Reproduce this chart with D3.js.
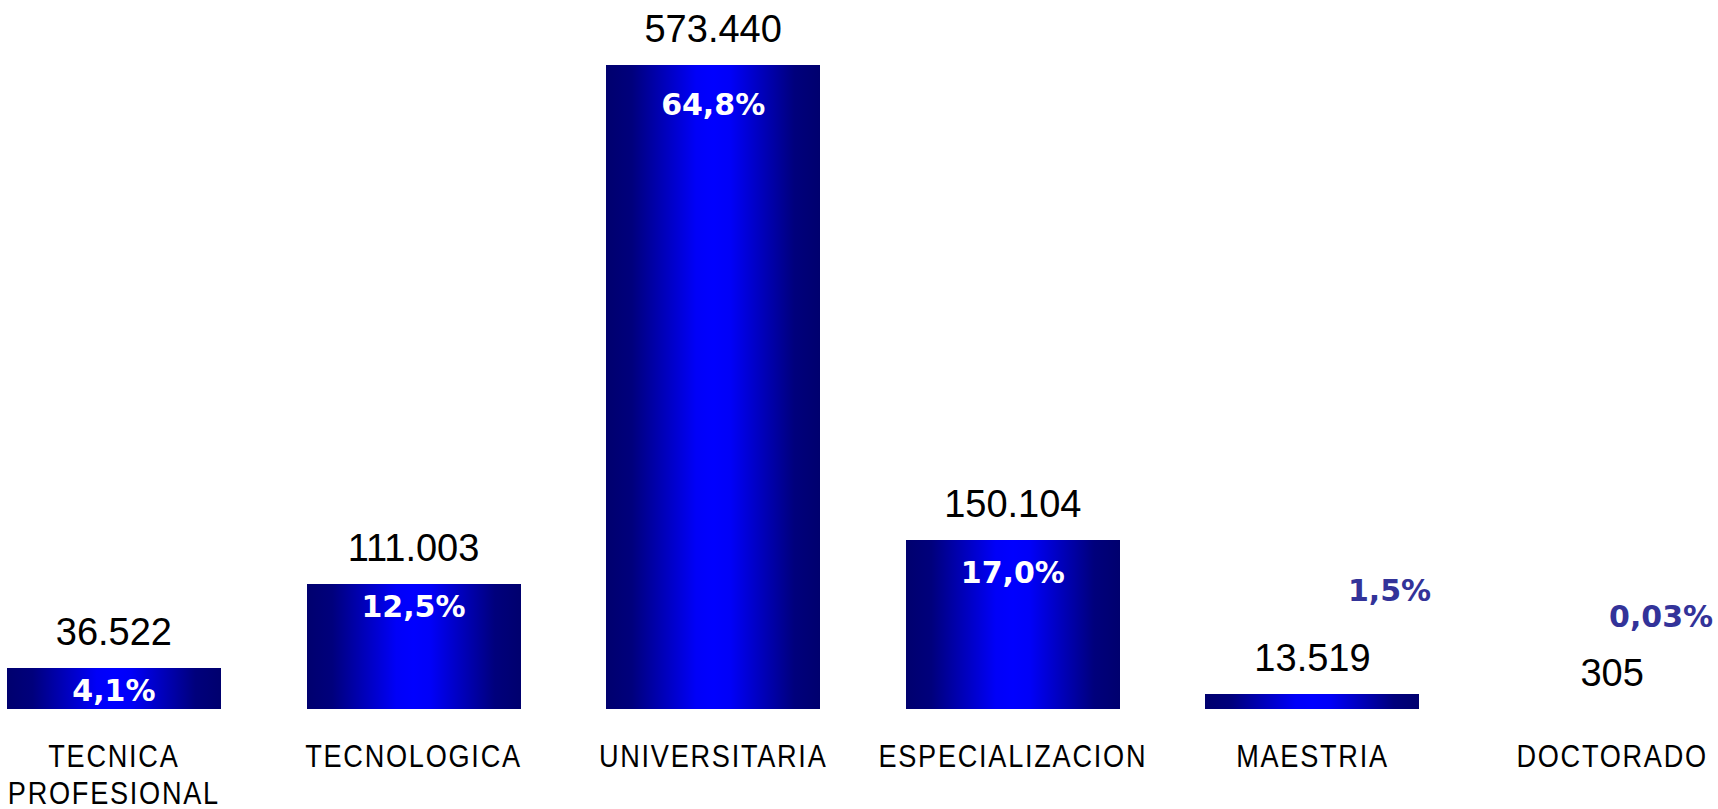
<!DOCTYPE html>
<html>
<head>
<meta charset="utf-8">
<script src="https://cdn.jsdelivr.net/npm/d3@7"></script>
<style>
  body { margin: 0; background: #fff; }
  .val { font-family: "Liberation Sans", Arial, sans-serif; font-size: 38px; fill: #000; }
  .pct { font-family: "DejaVu Sans", Verdana, sans-serif; font-weight: bold; font-size: 30px; }
  .cat { font-family: "Liberation Sans", Arial, sans-serif; font-size: 31px; letter-spacing: 2px; fill: #000; }
</style>
</head>
<body>
<div id="canvas"></div>
<script>
// datos: matricula por nivel de formacion
var categories = [["TECNICA", "PROFESIONAL"], ["TECNOLOGICA"], ["UNIVERSITARIA"], ["ESPECIALIZACION"], ["MAESTRIA"], ["DOCTORADO"]];
var values = [36522, 111003, 573440, 150104, 13519, 305];
var valueLabels = ["36.522", "111.003", "573.440", "150.104", "13.519", "305"];
var pctLabels = ["4,1%", "12,5%", "64,8%", "17,0%", "1,5%", "0,03%"];

// where each percent label sits, relative to bar centre / bar top
var pctInside = [true, true, true, true, false, false];
var pctOffset = [[0, 33], [0, 33], [0, 50], [0, 43], [77, -93], [49, -82]];

var width = 1718, height = 809;

var svg = d3.select("#canvas")
  .append("svg")
  .attr("width", width)
  .attr("height", height);

var grad = svg.append("defs").append("linearGradient")
  .attr("id", "barGrad")
  .attr("x1", "0%").attr("x2", "100%")
  .attr("y1", "0%").attr("y2", "0%");
[[0, "#00006e"], [0.12, "#00007c"], [0.42, "#0000f8"], [0.5, "#0000ff"], [0.58, "#0000f8"], [0.88, "#00007c"], [1, "#00006e"]]
  .forEach(function (s) {
    grad.append("stop").attr("offset", s[0]).attr("stop-color", s[1]);
  });

var x = d3.scaleBand()
  .domain(d3.range(values.length))
  .range([-36, 1762])
  .paddingInner(0.2857)
  .paddingOuter(0.143);

var y = d3.scaleLinear()
  .domain([0, 573440])
  .range([709, 64.6]);

// bars
svg.selectAll("rect.bar")
  .data(values)
  .enter().append("rect")
  .attr("class", "bar")
  .attr("shape-rendering", "crispEdges")
  .attr("x", function (d, i) { return x(i); })
  .attr("width", x.bandwidth())
  .attr("y", function (d) { return y(d); })
  .attr("height", function (d) { return y(0) - y(d); })
  .attr("fill", "url(#barGrad)");

// value labels above bars
svg.selectAll("text.val")
  .data(values)
  .enter().append("text")
  .attr("class", "val")
  .attr("text-anchor", "middle")
  .attr("x", function (d, i) { return x(i) + x.bandwidth() / 2; })
  .attr("y", function (d) { return y(d) - 23; })
  .text(function (d, i) { return valueLabels[i]; });

// percent labels
svg.selectAll("text.pct")
  .data(values)
  .enter().append("text")
  .attr("class", "pct")
  .attr("text-anchor", "middle")
  .attr("fill", function (d, i) { return pctInside[i] ? "#fff" : "#333399"; })
  .attr("x", function (d, i) { return x(i) + x.bandwidth() / 2 + pctOffset[i][0]; })
  .attr("y", function (d, i) { return y(d) + pctOffset[i][1]; })
  .text(function (d, i) { return pctLabels[i]; });

// category labels (narrow look: squeeze horizontally)
var cat = svg.selectAll("text.cat")
  .data(categories)
  .enter().append("text")
  .attr("class", "cat")
  .attr("text-anchor", "middle")
  .attr("transform", function (d, i) {
    return "translate(" + (x(i) + x.bandwidth() / 2) + ",767) scale(0.875,1)";
  });

cat.selectAll("tspan")
  .data(function (d) { return d; })
  .enter().append("tspan")
  .attr("x", 0)
  .attr("dy", function (d, j) { return j === 0 ? 0 : 37; })
  .text(function (d) { return d; });
</script>
</body>
</html>
